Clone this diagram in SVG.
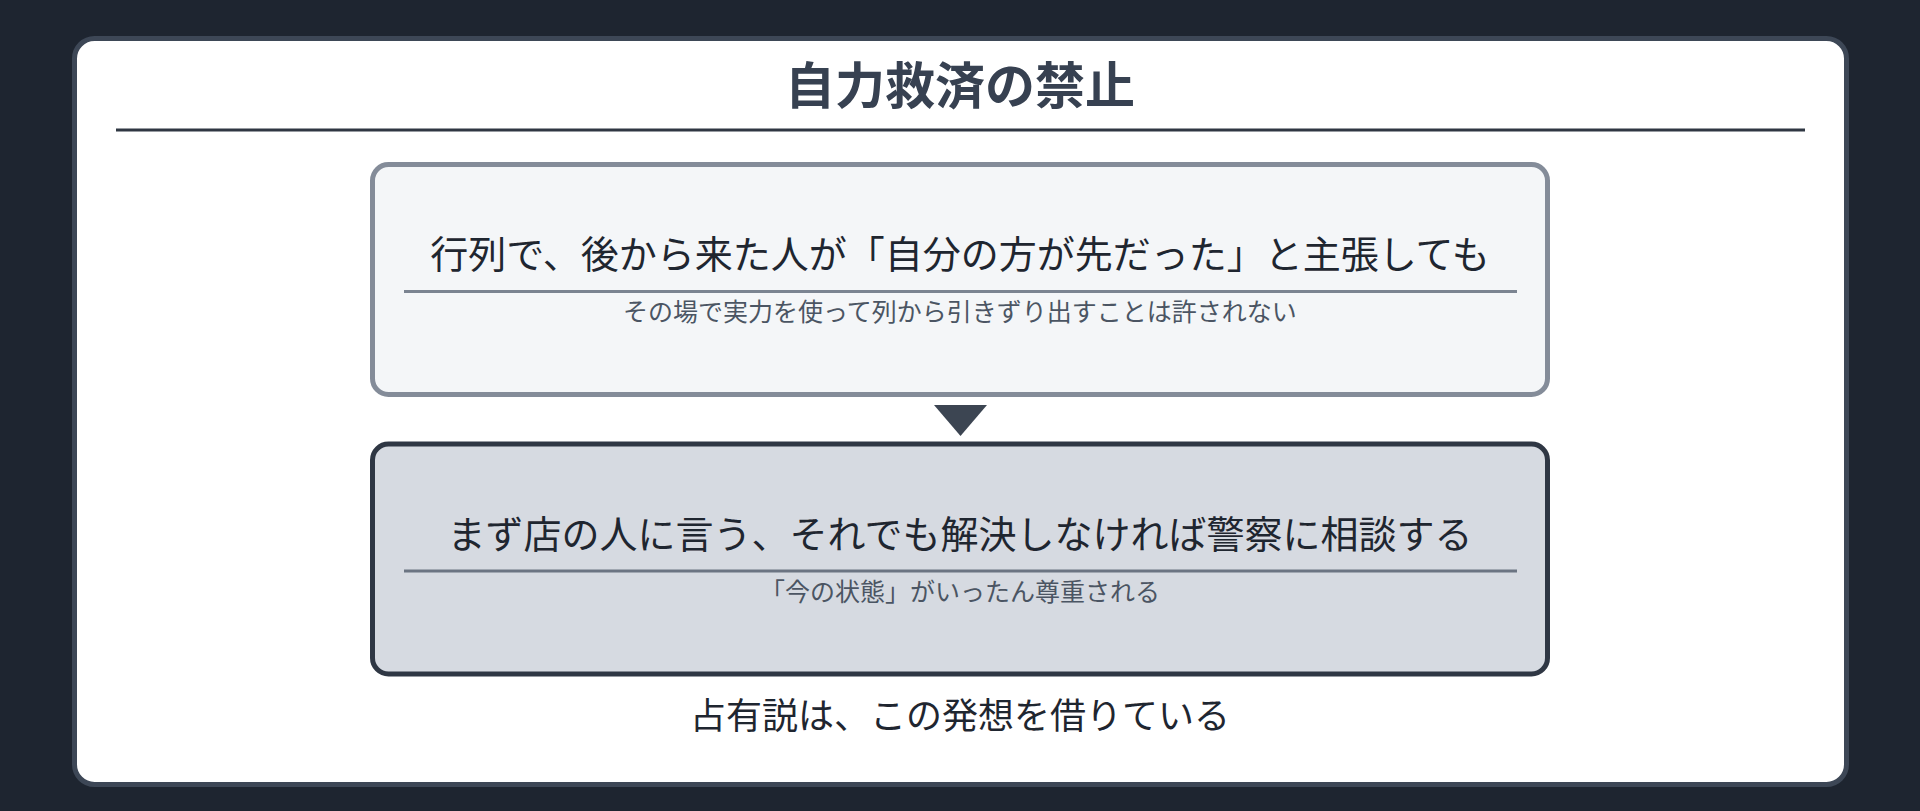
<svg xmlns="http://www.w3.org/2000/svg" width="1920" height="811" viewBox="0 0 1920 811">
  <style>
    .jp { font-family: "Noto Sans CJK JP", "Noto Sans", sans-serif; }
    .title { font-size: 50px; font-weight: 700; fill: #374151; }
    .main { font-size: 38px; fill: #1f2630; }
    .sub { font-size: 25px; fill: #4b5563; }
    .foot { font-size: 36px; fill: #1f2630; }
  </style>
  <rect x="0" y="0" width="1920" height="811" fill="#1e2530"/>
  <g id="card">
    <rect x="74.5" y="38.5" width="1772" height="746" rx="20" ry="20" fill="#ffffff" stroke="#3d4756" stroke-width="5"/>
  </g>
  <g id="title">
    <text class="jp title" x="960" y="104" text-anchor="middle">自力救済の禁止</text>
    <line x1="116" y1="130" x2="1805" y2="130" stroke="#2f3742" stroke-width="3"/>
  </g>
  <g id="node-1">
    <rect x="372.5" y="164.5" width="1175" height="230" rx="16" ry="16" fill="#f4f6f8" stroke="#848c99" stroke-width="5"/>
    <text class="jp main" x="960" y="268" text-anchor="middle">行列で、後から来た人が「自分の方が先だった」と主張しても</text>
    <line x1="404" y1="291.5" x2="1517" y2="291.5" stroke="#7b8491" stroke-width="3"/>
    <text class="jp sub" x="960" y="321" text-anchor="middle">その場で実力を使って列から引きずり出すことは許されない</text>
  </g>
  <g id="connectors">
    <polygon points="934,405 987,405 960.5,436" fill="#3c4552"/>
  </g>
  <g id="node-2">
    <rect x="372.5" y="444" width="1175" height="230" rx="16" ry="16" fill="#d6dae1" stroke="#2f3744" stroke-width="5"/>
    <text class="jp main" x="960" y="547.5" text-anchor="middle">まず店の人に言う、それでも解決しなければ警察に相談する</text>
    <line x1="404" y1="571" x2="1517" y2="571" stroke="#6b7482" stroke-width="3"/>
    <text class="jp sub" x="960" y="600.5" text-anchor="middle">「今の状態」がいったん尊重される</text>
  </g>
  <g id="footer">
    <text class="jp foot" x="960" y="729" text-anchor="middle">占有説は、この発想を借りている</text>
  </g>
</svg>
